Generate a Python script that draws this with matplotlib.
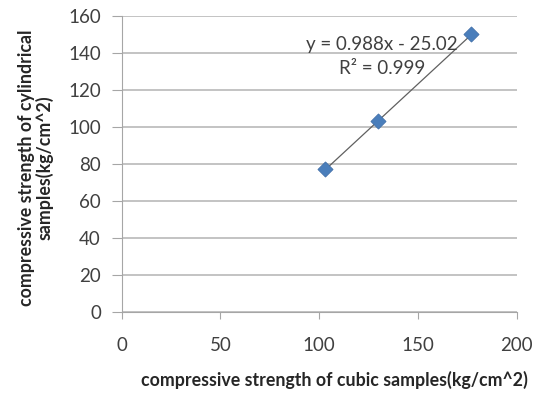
import numpy as np
import matplotlib.pyplot as plt

plt.rcParams['font.family'] = ['Lato', 'DejaVu Sans']

# cube vs cylinder strengths (kg/cm^2)
cubic = [103, 130, 177]
cylindrical = [77, 103, 150]
eq_text = 'y = 0.988x - 25.02'
r2_text = 'R² = 0.999'

fig = plt.figure(figsize=(5.41, 3.95), dpi=100)
ax = fig.add_axes([0.225, 0.211, 0.73, 0.7485])

ax.set_xlim(0, 200)
ax.set_ylim(0, 160)
ax.set_xticks([0, 50, 100, 150, 200])
ax.set_yticks(np.arange(0, 161, 20))

ax.yaxis.grid(True, color='#b3b3b3', linewidth=1.1)
ax.set_axisbelow(True)
for s in ['top', 'right']:
    ax.spines[s].set_visible(False)
for s in ['left', 'bottom']:
    ax.spines[s].set_color('#a6a6a6')
ax.tick_params(axis='both', colors='#a6a6a6', labelcolor='#404040', labelsize=13.5)
ax.tick_params(axis='y', length=7, pad=8)
ax.tick_params(axis='x', length=5, pad=13)

# linear trendline fitted to the points
coef = np.polyfit(cubic, cylindrical, 1)
xs = np.array([min(cubic), max(cubic)])
ax.plot(xs, np.polyval(coef, xs), color='#606060', linewidth=0.9, zorder=2)
ax.scatter(cubic, cylindrical, marker='D', s=60, color='#4a7ebb', edgecolors='#3c6ba5',
           linewidths=0.5, zorder=3)

ax.text(0.659, 0.902, eq_text, transform=ax.transAxes, ha='center', va='center',
        fontsize=13.5, color='#404040')
ax.text(0.660, 0.821, r2_text, transform=ax.transAxes, ha='center', va='center',
        fontsize=13.5, color='#404040')

fig.text(0.619, 0.038, 'compressive strength of cubic samples(kg/cm^2)', ha='center',
         va='center', fontsize=12.8, fontweight='bold', color='#262626')
fig.text(0.066, 0.575, 'compressive strength of cylindrical\nsamples(kg/cm^2)', ha='center',
         va='center', rotation=90, fontsize=12.8, fontweight='bold', color='#262626',
         linespacing=1.05, multialignment='center')

fig.savefig('out.png', dpi=100)
